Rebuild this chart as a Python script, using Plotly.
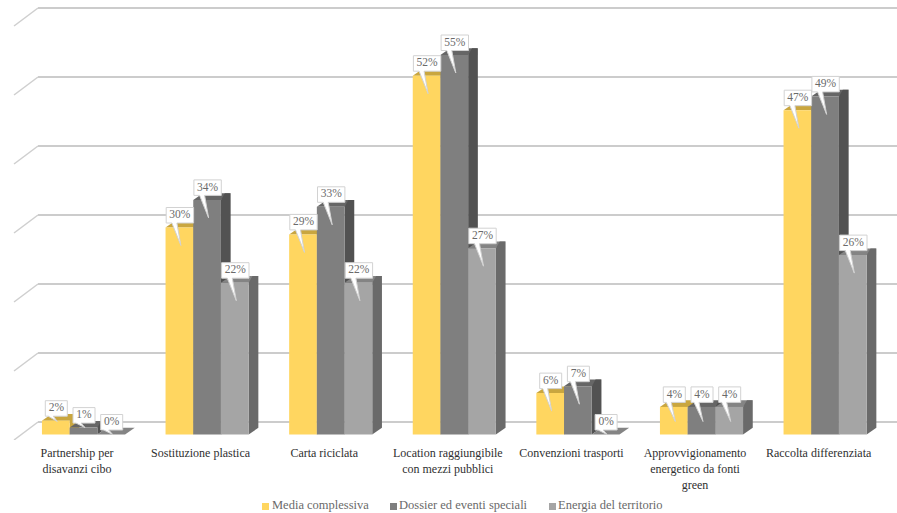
import plotly.graph_objects as go

# Chart data
categories = [
    "Partnership per<br>disavanzi cibo",
    "Sostituzione plastica",
    "Carta riciclata",
    "Location raggiungibile<br>con mezzi pubblici",
    "Convenzioni trasporti",
    "Approvvigionamento<br>energetico da fonti<br>green",
    "Raccolta differenziata",
]
media_complessiva = [2, 30, 29, 52, 6, 4, 47]
dossier_eventi = [1, 34, 33, 55, 7, 4, 49]
energia_territorio = [0, 22, 22, 27, 0, 4, 26]
grid_values = [0, 10, 20, 30, 40, 50, 60]

series = [
    ("Media complessiva", media_complessiva, "#ffd660", "#c9a63f", "#c9a63f"),
    ("Dossier ed eventi speciali", dossier_eventi, "#7f7f7f", "#666666", "#525252"),
    ("Energia del territorio", energia_territorio, "#a5a5a5", "#848484", "#6a6a6a"),
]

# Canvas geometry
W, H = 897, 513
PLOT_BOTTOM = 440
PX_PER_CAT = 123.6
PX_PER_UNIT = 6.9
FIRST_CENTER_PX = 83.5
BASE_PX = 434.5

ux = 1 / PX_PER_CAT    # one pixel in x data units
uy = 1 / PX_PER_UNIT   # one pixel in y data units
BAR_W = 27.7 * ux
DEPTH_X, DEPTH_Y = 9.7 * ux, 6.7 * uy
WALL_Y = 12.5 * uy
x_range = [-FIRST_CENTER_PX * ux, (W - FIRST_CENTER_PX) * ux]
y_range = [(BASE_PX - PLOT_BOTTOM) * uy, BASE_PX * uy]


def poly(points):
    return "M " + " L ".join(f"{x:.5f},{y:.5f}" for x, y in points) + " Z"


shapes = []

# Back wall gridlines with the short diagonal on the floor side
wall_left = (38 - FIRST_CENTER_PX) * ux
wall_far = (14 - FIRST_CENTER_PX) * ux
for v in grid_values:
    yb = v + WALL_Y
    shapes.append(dict(type="line", layer="below", x0=wall_far, x1=wall_left,
                       y0=yb - 18 * uy, y1=yb,
                       line=dict(color="#cfcfcf", width=1.5)))
    shapes.append(dict(type="line", layer="below", x0=wall_left, x1=x_range[1],
                       y0=yb, y1=yb,
                       line=dict(color="#cccccc", width=2)))

# Top and side faces, left to right so nearer neighbours overlap correctly
for i in range(len(categories)):
    for k, (_, values, _, top_col, side_col) in enumerate(series):
        v = values[i]
        xl = i + (k - 1.5) * BAR_W
        xr = xl + BAR_W
        shapes.append(dict(type="path", layer="below", line_width=0, fillcolor=top_col,
                           path=poly([(xl, v), (xr, v), (xr + DEPTH_X, v + DEPTH_Y),
                                      (xl + DEPTH_X, v + DEPTH_Y)])))
        if v > 0:
            # The side face reaches the back edge of the top with a small chamfer
            shapes.append(dict(type="path", layer="below", line_width=0, fillcolor=side_col,
                               path=poly([(xr, 0), (xr + DEPTH_X, DEPTH_Y),
                                          (xr + DEPTH_X, v + DEPTH_Y),
                                          (xr + 0.4 * DEPTH_X, v + DEPTH_Y), (xr, v)])))

fig = go.Figure()

# Front faces
for name, values, front_col, _, _ in series:
    fig.add_trace(go.Bar(x=list(range(len(categories))), y=values, name=name,
                         marker=dict(color=front_col, line_width=0), showlegend=False))

# Speech-bubble value labels
bx, by, tx, ty, labels = [], [], [], [], []
for i in range(len(categories)):
    for k, (_, values, _, _, _) in enumerate(series):
        v = values[i]
        text = f"{v}%"
        cx = i + (k - 1) * BAR_W + 0.5 * ux
        half = (13.7 if v >= 10 else 11) * ux
        bottom = v + 4.5 * uy
        top = bottom + 15.5 * uy
        tail = min(18, max(0, v * PX_PER_UNIT - 13))
        bx += [cx - half, cx + half, cx + half, cx - 3 * ux, cx + 1 * ux,
               cx - 8 * ux, cx - half, cx - half, None]
        by += [top, top, bottom, bottom, v - tail * uy,
               bottom, bottom, top, None]
        tx.append(cx)
        ty.append((top + bottom) / 2)
        labels.append(text)

fig.add_trace(go.Scatter(x=bx, y=by, mode="lines", fill="toself", fillcolor="#ffffff",
                         line=dict(color="#d2d2d2", width=1), hoverinfo="skip",
                         showlegend=False))
fig.add_trace(go.Scatter(x=tx, y=ty, mode="text", text=labels, textposition="middle center",
                         textfont=dict(family="Liberation Serif", size=11.5, color="#6a6a6a"),
                         hoverinfo="skip", showlegend=False))

# Legend row
annotations = []
legend_items = [(262, 271), (390, 398), (549, 557)]
for (mark_px, text_px), (name, _, col, _, _) in zip(legend_items, series):
    shapes.append(dict(type="rect", xref="paper", yref="paper", line_width=0, fillcolor=col,
                       x0=mark_px / W, x1=(mark_px + 7) / W,
                       y0=(PLOT_BOTTOM - 510) / PLOT_BOTTOM,
                       y1=(PLOT_BOTTOM - 503) / PLOT_BOTTOM))
    annotations.append(dict(xref="paper", yref="paper", x=text_px / W,
                            y=(PLOT_BOTTOM - 505) / PLOT_BOTTOM,
                            text=name, showarrow=False, xanchor="left", yanchor="middle",
                            xshift=-1, font=dict(family="Liberation Serif", size=12.5,
                                                 color="#6a6a6a")))

fig.update_layout(
    width=W, height=H,
    margin=dict(l=0, r=0, t=0, b=H - PLOT_BOTTOM),
    paper_bgcolor="#ffffff", plot_bgcolor="#ffffff",
    barmode="group", bargap=1 - 3 * BAR_W, bargroupgap=0,
    shapes=shapes, annotations=annotations, showlegend=False,
    xaxis=dict(range=x_range, showgrid=False, zeroline=False, showline=False,
               tickmode="array",
               tickvals=[i - 6.5 * ux for i in range(len(categories))],
               ticktext=categories, ticks="outside", ticklen=2, tickcolor="#ffffff",
               tickangle=0,
               tickfont=dict(family="Liberation Serif", size=12, color="#303030")),
    yaxis=dict(range=y_range, showgrid=False, zeroline=False, showline=False,
               showticklabels=False, ticks=""),
)

fig.write_html("out.html")
